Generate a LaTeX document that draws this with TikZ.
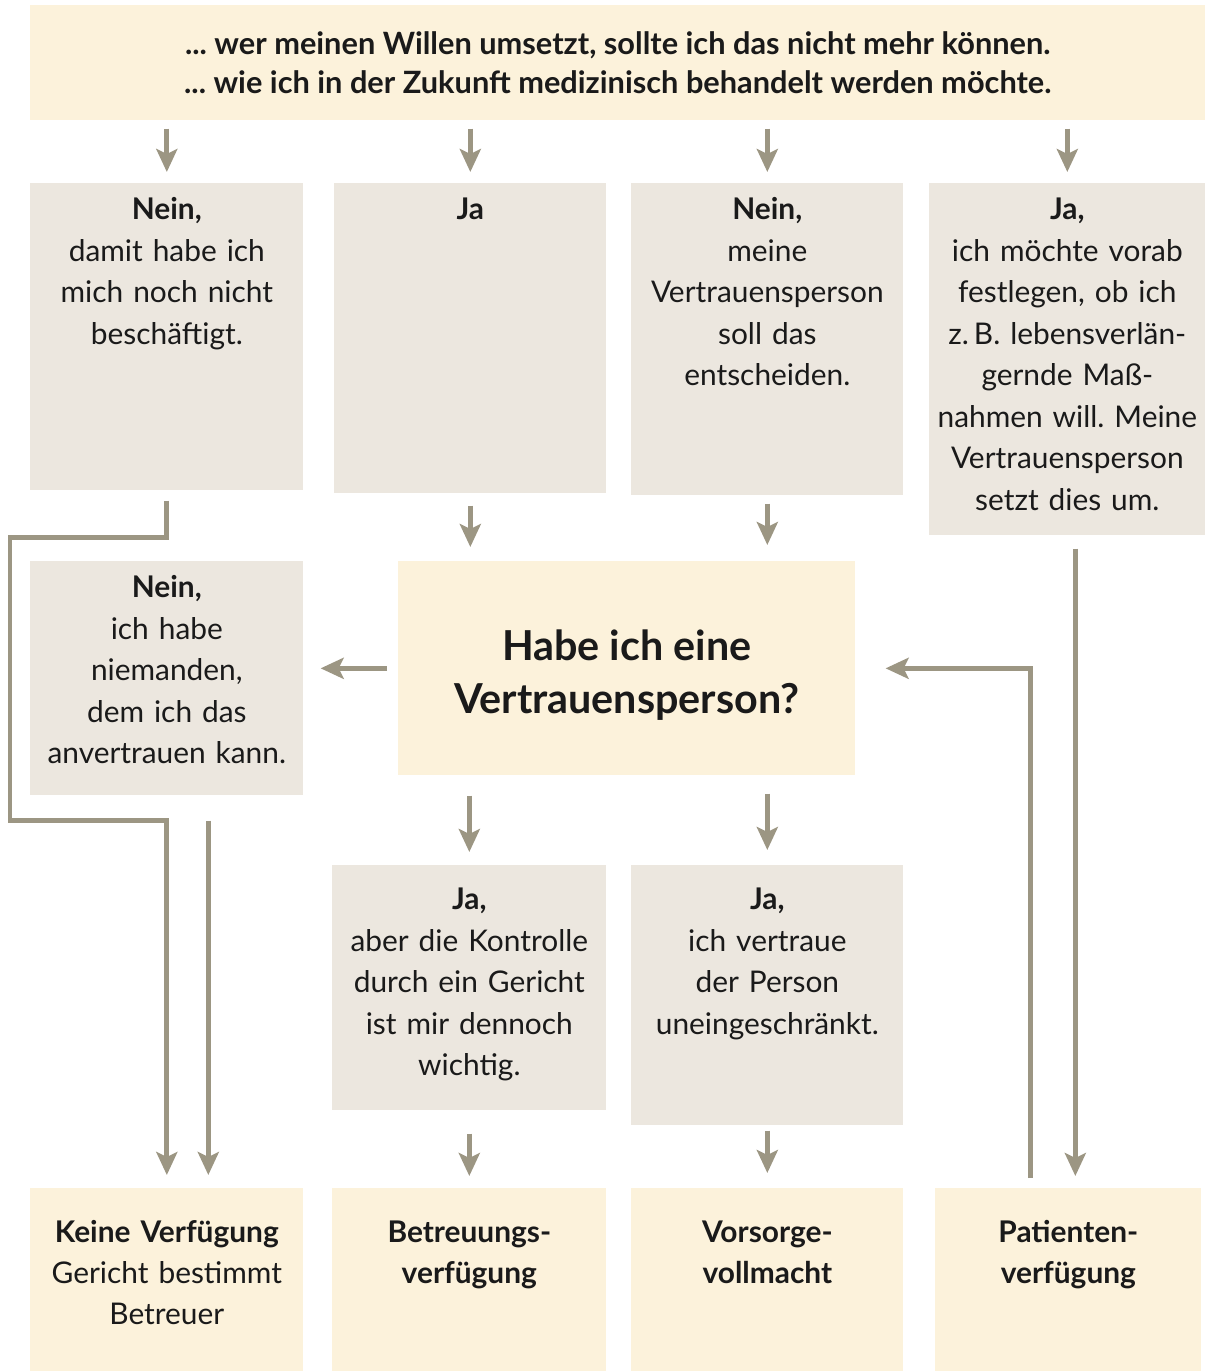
\documentclass[tikz,border=0pt]{standalone}
\usepackage{fontspec}
\setmainfont{Lato}
\usetikzlibrary{arrows.meta,positioning}

\definecolor{creme}{HTML}{FCF2DB}
\definecolor{sand}{HTML}{ECE7DF}
\definecolor{strich}{HTML}{9C9683}
\definecolor{schrift}{HTML}{1A1A1A}

\newcommand{\normschrift}{\fontsize{17}{23.6}\selectfont}
\newcommand{\kopfschrift}{\fontsize{17.5}{22.6}\selectfont\bfseries}
\newcommand{\titelschrift}{\fontsize{23.5}{30}\selectfont\bfseries}
\frenchspacing

\tikzset{
    gelb/.style={fill=creme, inner sep=0pt, anchor=north west},
    grau/.style={fill=sand, inner sep=0pt, anchor=north west},
    txt/.style={text=schrift, text width=6cm, align=center, inner sep=0pt, anchor=base, font=\normschrift},
    pfeil/.style={draw=strich, line width=0.1cm, shorten <=0.16cm, shorten >=0.22cm,
        -{Stealth[length=0.46cm, width=0.42cm, inset=0.1cm]}}
}

\begin{document}
\begin{tikzpicture}[x=0.02cm, y=-0.02cm]
    \useasboundingbox (0,0) rectangle (1207,1371);

    % Kopf
    \node[gelb, minimum width=23.5cm, minimum height=2.3cm, align=center, text=schrift, font=\kopfschrift] (kopf) at (30,5)
        {... wer meinen Willen umsetzt, sollte ich das nicht mehr können.\\... wie ich in der Zukunft medizinisch behandelt werden möchte.};

    % erste Reihe
    \node[grau, minimum width=5.46cm, minimum height=6.14cm] (nein1) at (30,183) {};
    \node[grau, minimum width=5.44cm, minimum height=6.2cm] (ja1) at (334,183) {};
    \node[grau, minimum width=5.44cm, minimum height=6.24cm] (nein3) at (631,183) {};
    \node[grau, minimum width=5.52cm, minimum height=7.04cm] (ja4) at (929,183) {};

    \node[txt] (nein1t) at ([yshift=-0.74cm]nein1.north) {\textbf{Nein,}\\damit habe ich\\mich noch nicht\\beschäftigt.};
    \node[txt] (ja1t) at ([yshift=-0.74cm]ja1.north) {\textbf{Ja}};
    \node[txt] (nein3t) at ([yshift=-0.74cm]nein3.north) {\textbf{Nein,}\\meine\\Vertrauensperson\\soll das\\entscheiden.};
    \node[txt] (ja4t) at ([yshift=-0.74cm]ja4.north) {\textbf{Ja,}\\ich möchte vorab\\festlegen, ob ich\\z.\,B. lebensverlän-\\gernde Maß-\\nahmen will. Meine\\Vertrauensperson\\setzt dies um.};

    % Mitte
    \node[gelb, minimum width=9.14cm, minimum height=4.28cm] (frage) at (398,561) {};
    \node[align=center, text=schrift, font=\titelschrift, inner sep=0pt] (fraget) at ([yshift=-0.13cm]frage.center)
        {Habe ich eine\\Vertrauensperson?};
    \node[grau, minimum width=5.46cm, minimum height=4.68cm] (nein2) at (30,561) {};
    \node[txt] (nein2t) at ([yshift=-0.74cm]nein2.north) {\textbf{Nein,}\\ich habe\\niemanden,\\dem ich das\\anvertrauen kann.};

    % dritte Reihe
    \node[grau, minimum width=5.48cm, minimum height=4.9cm] (kontr) at (332,865) {};
    \node[grau, minimum width=5.44cm, minimum height=5.2cm] (vertr) at (631,865) {};
    \node[txt] (kontrt) at ([yshift=-0.9cm]kontr.north) {\textbf{Ja,}\\aber die Kontrolle\\durch ein Gericht\\ist mir dennoch\\wichtig.};
    \node[txt] (vertrt) at ([yshift=-0.9cm]vertr.north) {\textbf{Ja,}\\ich vertraue\\der Person\\uneingeschränkt.};

    % Ergebnisse
    \node[gelb, minimum width=5.46cm, minimum height=3.66cm] (keine) at (30,1188) {};
    \node[gelb, minimum width=5.48cm, minimum height=3.66cm] (betr) at (332,1188) {};
    \node[gelb, minimum width=5.44cm, minimum height=3.66cm] (vors) at (631,1188) {};
    \node[gelb, minimum width=5.32cm, minimum height=3.66cm] (pat) at (935,1188) {};

    \node[txt] (keinet) at ([yshift=-1.08cm]keine.north) {\textbf{Keine Verfügung}\\Gericht bestimmt\\Betreuer};
    \node[txt, font=\normschrift\bfseries] (betrt) at ([yshift=-1.08cm]betr.north) {Betreuungs-\\verfügung};
    \node[txt, font=\normschrift\bfseries] (vorst) at ([yshift=-1.08cm]vors.north) {Vorsorge-\\vollmacht};
    \node[txt, font=\normschrift\bfseries] (patt) at ([yshift=-1.08cm]pat.north) {Patienten-\\verfügung};

    \coordinate (knick1) at (10,537);
    \coordinate (knick2) at (10,820);

    \draw[pfeil] (nein1.north |- kopf.south) to (nein1.north);
    \draw[pfeil] (ja1.north |- kopf.south) to (ja1.north);
    \draw[pfeil] (nein3.north |- kopf.south) to (nein3.north);
    \draw[pfeil] (ja4.north |- kopf.south) to (ja4.north);

    \draw[pfeil, shorten <=0.24cm, shorten >=0.28cm] (ja1.south) to (ja1.south |- frage.north);
    \draw[pfeil, shorten <=0.16cm, shorten >=0.32cm] (nein3.south) to (nein3.south |- frage.north);
    \draw[pfeil, shorten <=0.22cm, shorten >=0.34cm] (frage.west) to (frage.west -| nein2.east);
    \draw[pfeil, shorten <=0.2cm, shorten >=0.26cm] (nein1.south) |- (knick1) -- (knick2) -| (keine.north);
    \draw[pfeil, shorten <=0.5cm, shorten >=0.26cm] ([xshift=0.83cm]nein2.south) to ([xshift=0.83cm]keine.north);

    \draw[pfeil, shorten <=0.4cm, shorten >=0.26cm] (kontr.north |- frage.south) to (kontr.north);
    \draw[pfeil, shorten <=0.36cm, shorten >=0.3cm] (vertr.north |- frage.south) to (vertr.north);
    \draw[pfeil, shorten <=0.46cm, shorten >=0.24cm] (kontr.south) to (betr.north);
    \draw[pfeil, shorten <=0.1cm, shorten >=0.3cm] (vertr.south) to (vors.north);

    \draw[pfeil, shorten <=0.26cm, shorten >=0.24cm] ([xshift=0.16cm]ja4.south) to ([xshift=0.16cm]ja4.south |- pat.north);
    \draw[pfeil, shorten <=0.2cm, shorten >=0.6cm] ([xshift=-0.76cm]pat.north) |- (frage.east);
\end{tikzpicture}
\end{document}
